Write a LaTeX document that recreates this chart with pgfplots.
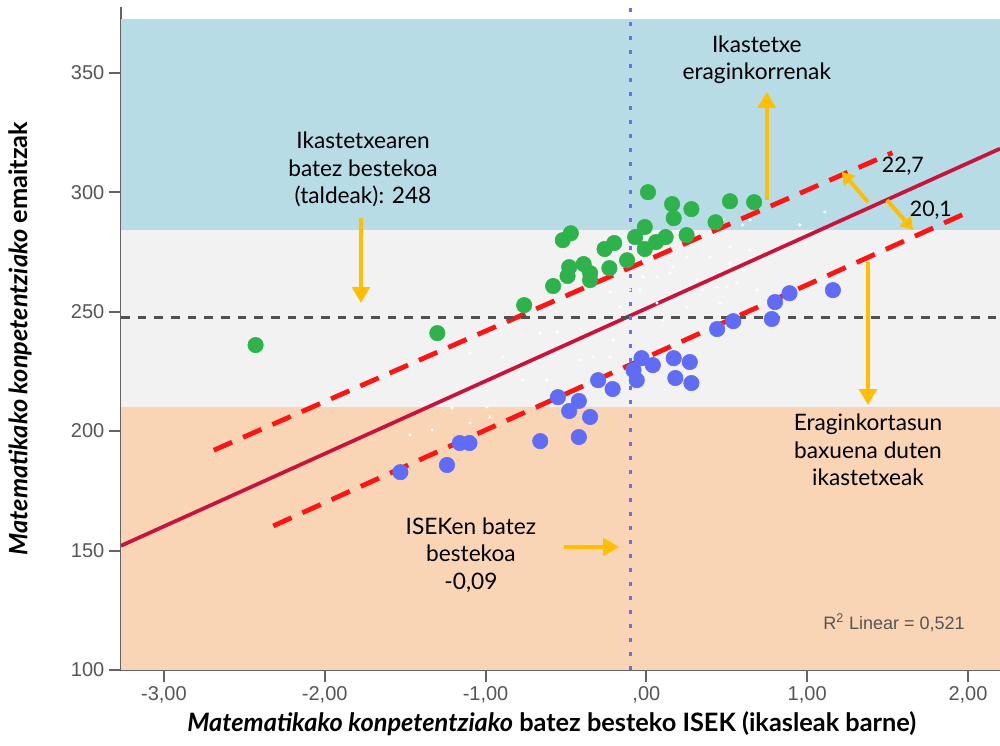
\documentclass[border=0pt]{standalone}
\usepackage{pgfplots}
\pgfplotsset{compat=1.18}
\usetikzlibrary{arrows.meta}
\usepackage{fontspec}
\setmainfont{Lato}
\newfontfamily\arialfont{Liberation Sans}

\definecolor{blueband}{RGB}{183,220,230}
\definecolor{grayband}{RGB}{242,242,242}
\definecolor{orangeband}{RGB}{250,213,181}
\definecolor{greendot}{RGB}{46,178,76}
\definecolor{bluedot}{RGB}{96,108,245}
\definecolor{reddash}{RGB}{255,20,20}
\definecolor{regline}{RGB}{200,20,60}
\definecolor{arrowc}{RGB}{255,190,0}
\definecolor{meanline}{RGB}{80,80,80}
\definecolor{dotline}{RGB}{110,110,235}
\definecolor{axisgray}{RGB}{100,100,100}
\definecolor{tickgray}{RGB}{85,85,85}

\begin{document}
\begin{tikzpicture}
\begin{axis}[
    name=ax,
    scale only axis,
    width=659.25pt, height=497.25pt,
    xmin=-3.267, xmax=2.199, ymin=100, ymax=377.5,
    axis lines*=left,
    axis line style={-, draw=axisgray, line width=1.5pt},
    xtick={-3,-2,-1,0,1,2},
    xticklabels={{-3,00},{-2,00},{-1,00},{,00},{1,00},{2,00}},
    ytick={100,150,200,250,300,350},
    yticklabels={100,150,200,250,300,350},
    tick align=outside,
    major tick length=9pt,
    tick style={draw=axisgray, line width=1.5pt},
    ticklabel style={font=\arialfont\fontsize{15}{17}\selectfont, text=tickgray},
    xlabel={\textit{Matematikako konpetentziako} batez besteko ISEK (ikasleak barne)},
    ylabel={\textit{Matematikako konpetentziako} emaitzak},
    label style={font=\bfseries\fontsize{19}{21}\selectfont},
    xlabel style={at={(rel axis cs:0.49,0)}, anchor=center, yshift=-40pt},
    ylabel style={at={(rel axis cs:0,0.5)}, anchor=center, yshift=75.75pt},
]
% background bands
\addplot[draw=none, fill=orangeband] coordinates {(-3.267,100) (2.199,100) (2.199,210) (-3.267,210)} -- cycle;
\addplot[draw=none, fill=grayband] coordinates {(-3.267,210) (2.199,210) (2.199,284.2) (-3.267,284.2)} -- cycle;
\addplot[draw=none, fill=blueband] coordinates {(-3.267,284.2) (2.199,284.2) (2.199,372.4) (-3.267,372.4)} -- cycle;

% other students (faint white dots)
\addplot[only marks, mark=*, mark size=1pt, mark options={draw=white, fill=white}] coordinates {
(-0.662,241.1) (-0.556,241.5) (-0.413,229.8) (-0.332,231.0) (-0.208,238.1)
(-0.226,231.0) (-0.769,221.4) (-0.618,221.4) (-1.097,232.7) (-0.892,231.0)
(-1.470,198.4) (-1.333,200.5) (-1.209,209.7) (-0.991,210.1) (-0.973,205.9)
(-1.097,203.4) (-0.164,251.9) (-0.226,258.2) (0.600,286.3) (0.644,288.4)
(0.476,288.4) (0.520,277.1) (0.396,272.9) (0.520,270.4) (0.165,268.7)
(0.252,272.9) (0.066,264.5) (-0.102,259.1) (0.315,263.3) (0.439,260.3)
(0.600,267.4) (0.644,275.8) (-0.021,264.5) (0.147,266.2) (0.501,260.3)
(0.563,262.0) (0.066,253.6) (0.252,251.9) (-0.040,259.1) (0.352,259.1)
(0.103,246.5) (0.458,253.6) (0.688,259.1) (1.110,291.7) (0.954,286.3)
};

% regression line and bounds
\addplot[regline, line width=2.8pt] coordinates {(-3.267,152) (2.199,318.2)};
\addplot[reddash, line width=3.6pt, dash pattern=on 15pt off 9pt] coordinates {(-2.69,192) (1.53,316.5)};
\addplot[reddash, line width=3.6pt, dash pattern=on 15pt off 9pt] coordinates {(-2.32,160.3) (1.98,291)};

% most effective schools
\addplot[only marks, mark=*, mark size=5.8pt, mark options={draw=greendot, fill=greendot}] coordinates {
(-2.43,236.0) (-1.30,241.0) (-0.76,252.7) (-0.58,260.7) (-0.49,264.9)
(-0.48,268.6) (-0.52,279.9) (-0.47,282.8) (-0.39,269.9) (-0.35,263.2)
(-0.35,266.1) (-0.26,276.2) (-0.20,278.7) (-0.23,268.2) (-0.12,271.5)
(-0.07,281.2) (-0.01,285.4) (-0.01,276.2) (0.06,279.1) (0.12,281.2)
(0.25,282.0) (0.01,300.0) (0.16,295.0) (0.28,292.9) (0.17,289.1)
(0.43,287.4) (0.52,296.2) (0.67,295.8)
};

% least effective schools
\addplot[only marks, mark=*, mark size=5.8pt, mark options={draw=bluedot, fill=bluedot}] coordinates {
(-1.53,182.8) (-1.24,185.8) (-1.16,195.0) (-1.10,195.0) (-0.66,195.8)
(-0.42,197.5) (-0.55,214.2) (-0.48,208.4) (-0.42,212.6) (-0.35,205.9)
(-0.30,221.3) (-0.21,217.6) (-0.08,225.5) (-0.06,221.3) (-0.03,230.5)
(0.04,227.6) (0.17,230.5) (0.27,228.9) (0.18,222.2) (0.28,220.1)
(0.44,242.7) (0.54,246.0) (0.78,246.9) (0.80,254.0) (0.89,257.7)
(1.16,259.0)
};

% mean of schools and mean ISEK
\addplot[meanline, line width=2.2pt, dash pattern=on 6.5pt off 6pt] coordinates {(-3.267,247.5) (2.199,247.5)};
\addplot[dotline, line width=1.8pt, dash pattern=on 3pt off 7.5pt] coordinates {(-0.1,100) (-0.1,377.5)};

% annotations
\node[align=center, font=\fontsize{17}{20.5}\selectfont] at (axis cs:-1.762,309.5)
  {Ikastetxearen\\batez bestekoa\\(taldeak): 248};
\draw[arrowc, line width=3pt, -{Triangle[width=13pt,length=12pt]}] (axis cs:-1.775,289.2) -- (axis cs:-1.775,253.6);

\node[align=center, font=\fontsize{17}{20.5}\selectfont] at (axis cs:0.687,355.3)
  {Ikastetxe\\eraginkorrenak};
\draw[arrowc, line width=3pt, -{Triangle[width=13pt,length=12pt]}] (axis cs:0.749,296.7) -- (axis cs:0.749,342.0);

\node[font=\fontsize{16}{18}\selectfont] at (axis cs:1.595,311) {22,7};
\node[font=\fontsize{16}{18}\selectfont] at (axis cs:1.769,292.5) {20,1};
\draw[arrowc, line width=3pt, -{Triangle[width=11pt,length=9pt]}] (axis cs:1.378,295.9) -- (axis cs:1.215,308.5);
\draw[arrowc, line width=3pt, -{Triangle[width=11pt,length=9pt]}] (axis cs:1.496,296.7) -- (axis cs:1.658,284.2);

\draw[arrowc, line width=3pt, -{Triangle[width=13pt,length=12pt]}] (axis cs:1.378,270.8) -- (axis cs:1.378,210.9);
\node[align=center, font=\fontsize{17}{20.5}\selectfont] at (axis cs:1.378,192.1)
  {Eraginkortasun\\baxuena duten\\ikastetxeak};

\node[align=center, font=\fontsize{17}{20.5}\selectfont] at (axis cs:-1.091,148.1)
  {ISEKen batez\\bestekoa\\-0,09};
\draw[arrowc, line width=3pt, -{Triangle[width=13pt,length=12pt]}] (axis cs:-0.512,151.5) -- (axis cs:-0.170,151.5);

\node[font=\arialfont\fontsize{13.5}{15}\selectfont, text=tickgray] at (axis cs:1.54,119.7) {R\textsuperscript{2} Linear = 0,521};
\end{axis}
\pgfresetboundingbox
\path[use as bounding box] ([shift={(-90.75pt,-56.25pt)}]ax.south west) rectangle ([shift={(0pt,5.25pt)}]ax.north east);
\end{tikzpicture}
\end{document}
